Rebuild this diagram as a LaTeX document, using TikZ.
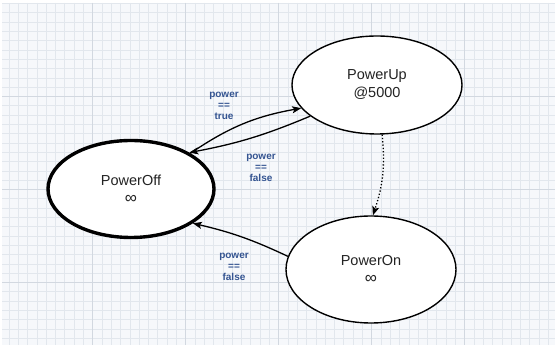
\documentclass[tikz,border=0pt]{standalone}
\usepackage{fontspec}
\setmainfont{Liberation Sans}
\usetikzlibrary{arrows.meta,shapes.geometric}
\definecolor{gridbg}{RGB}{246,248,251}
\definecolor{gridminor}{RGB}{226,231,237}
\definecolor{gridmajor}{RGB}{210,216,224}
\definecolor{lblblue}{RGB}{52,84,145}
\definecolor{statetext}{RGB}{35,35,35}
\newcommand{\infsym}{{\fontsize{17}{18}\selectfont ∞}}
\tikzset{
  state/.style={ellipse, draw=black, fill=white, line width=1.4pt, inner sep=0pt,
    align=center, text=statetext, font=\fontsize{14.5}{18}\selectfont},
  initstate/.style={state, line width=3.4pt},
  trans/.style={draw=black, line width=1.3pt, -{Stealth[length=9pt,width=7pt,inset=2pt]}},
  dottrans/.style={trans, dotted},
  lbl/.style={align=center, text=lblblue, font=\fontsize{10}{11.3}\selectfont\bfseries, inner sep=0pt}
}
\begin{document}
\begin{tikzpicture}[x=1pt,y=-1pt]
\useasboundingbox (0,0) rectangle (555,347);
\fill[white] (0,0) rectangle (555,347);
\fill[gridbg] (2,3) rectangle (555,345);
\begin{scope}
\clip (2,3) rectangle (555,345);
\foreach \i in {0,...,60} {
  \draw[gridminor, line width=0.6pt] ({-0.4+9.3*\i},3) -- ({-0.4+9.3*\i},345);
}
\foreach \j in {0,...,38} {
  \draw[gridminor, line width=0.6pt] (2,{3.5+9.3*\j}) -- (555,{3.5+9.3*\j});
}
\foreach \i in {1,...,5} {
  \draw[gridmajor, line width=0.6pt] ({-0.4+93*\i},3) -- ({-0.4+93*\i},345);
}
\foreach \j in {1,...,3} {
  \draw[gridmajor, line width=0.6pt] (2,{3.5+93*\j}) -- (555,{3.5+93*\j});
}
\end{scope}

\node[initstate, minimum width=166pt, minimum height=97pt] (off) at (131,189) {PowerOff\\\infsym};
\node[state, minimum width=170pt, minimum height=98pt] (up) at (377,85) {PowerUp\\@5000};
\node[state, minimum width=170pt, minimum height=107pt] (on) at (371,269.5) {PowerOn\\\infsym};

\draw[trans] (off.31) to[bend left=12] (up.-163);
\draw[trans] (up.205) to[bend left=6] (off.32);
\draw[dottrans] (up.-84) to[bend left=12] (on.88);
\draw[trans] (on.171) to[bend right=6] (off.-29);

\node[lbl] (l1) at (224,106) {power\\==\\true};
\node[lbl] (l2) at (261,168) {power\\==\\false};
\node[lbl] (l3) at (234,267) {power\\==\\false};
\end{tikzpicture}
\end{document}
